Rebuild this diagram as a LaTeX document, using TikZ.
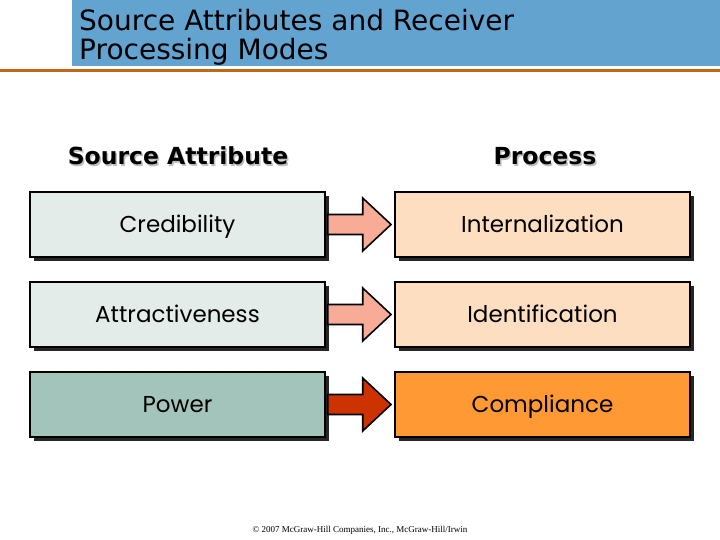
\documentclass[tikz,border=0pt]{standalone}
\usepackage{fontspec}
\setmainfont{DejaVu Sans}
\newfontfamily\titlefont{DejaVu Sans}
\newfontfamily\boxfont{Poppins}
\newfontfamily\footfont{Liberation Serif}
\usetikzlibrary{calc,shadows}
\definecolor{titleblue}{HTML}{62A3D0}
\definecolor{rule}{HTML}{C06818}
\definecolor{srclight}{HTML}{E3ECE8}
\definecolor{srcdark}{HTML}{A3C4BA}
\definecolor{prclight}{HTML}{FDDEC0}
\definecolor{prcdark}{HTML}{FF9933}
\definecolor{arrlight}{HTML}{F8AC98}
\definecolor{arrdark}{HTML}{CC3300}
\tikzset{
  cell/.style={draw=black, line width=2.5pt, minimum width=295pt, minimum height=65pt,
    inner sep=0pt, font=\boxfont\fontsize{23}{26}\selectfont, text height=16pt, text depth=0pt,
    drop shadow={shadow xshift=4pt, shadow yshift=-4pt, fill=black!85, opacity=1}},
  hdr/.style={font=\bfseries\fontsize{23.5}{26}\selectfont, inner sep=0pt},
  hdrshadow/.style={font=\bfseries\fontsize{23.5}{26}\selectfont, inner sep=0pt, text=black!25},
  arrowpoly/.style={draw=black, line width=1.6pt, line join=miter},
}
\begin{document}
\begin{tikzpicture}[x=1pt,y=-1pt]
\useasboundingbox (0,0) rectangle (720,540);
% title bar
\fill[titleblue] (72,0) rectangle (720,66);
\fill[rule] (0,69) rectangle (720,72.5);
\node[anchor=base west, inner sep=0pt, font=\titlefont\fontsize{28}{30}\selectfont] (t1) at (79,31) {Source Attributes and Receiver};
\node[anchor=base west, inner sep=0pt, font=\titlefont\fontsize{28}{30}\selectfont] (t2) at (79,60) {Processing Modes};
% headers
\node[hdrshadow, anchor=base] at (179.5,166.5) {Source Attribute};
\node[hdr, anchor=base] (h1) at (178,165) {Source Attribute};
\node[hdrshadow, anchor=base] at (546.5,166.5) {Process};
\node[hdr, anchor=base] (h2) at (545,165) {Process};
% rows
\node[cell, fill=srclight] (a1) at (177.5,224.5) {Credibility};
\node[cell, fill=prclight] (b1) at (542.5,224.5) {Internalization};
\node[cell, fill=srclight] (a2) at (177.5,314.5) {Attractiveness};
\node[cell, fill=prclight] (b2) at (542.5,314.5) {Identification};
\node[cell, fill=srcdark] (a3) at (177.5,404.5) {Power};
\node[cell, fill=prcdark] (b3) at (542.5,404.5) {Compliance};
% arrows
\foreach \a/\b/\c in {a1/b1/arrlight, a2/b2/arrlight, a3/b3/arrdark}{
  \draw[arrowpoly, fill=\c]
    ($(\a.east)+(1.5,-10)$) -- ($(\a.east)!0.54!(\b.west)+(0,-10)$)
    -- ($(\a.east)!0.54!(\b.west)+(0,-26.5)$) -- ($(\a.east)!0.96!(\b.west)$)
    -- ($(\a.east)!0.54!(\b.west)+(0,26.5)$) -- ($(\a.east)!0.54!(\b.west)+(0,10)$)
    -- ($(\a.east)+(1.5,10)$) -- cycle;
}
% footer
\node[font=\footfont\fontsize{9}{10}\selectfont, inner sep=0pt] (ft) at (360,530) {\textcopyright{} 2007 McGraw-Hill Companies, Inc., McGraw-Hill/Irwin};
\end{tikzpicture}
\end{document}
